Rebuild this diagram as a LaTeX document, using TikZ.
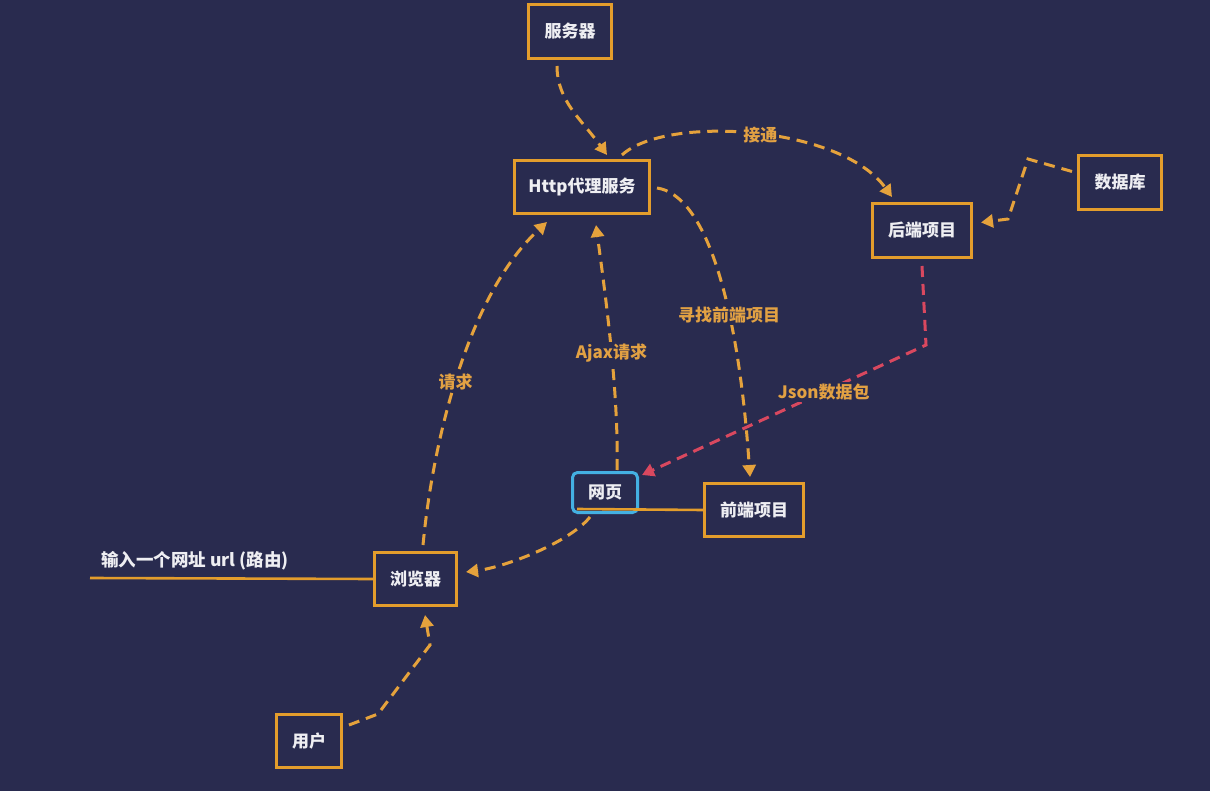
\documentclass[tikz,border=0pt]{standalone}
\usepackage{fontspec}
\setmainfont{Noto Sans CJK SC}
\usetikzlibrary{arrows.meta}
\definecolor{bg}{HTML}{292B4F}
\definecolor{boxorange}{HTML}{E39D2C}
\definecolor{lineorange}{HTML}{E5A23C}
\definecolor{labelorange}{HTML}{E2A143}
\definecolor{boxtext}{HTML}{EEEEF2}
\definecolor{webblue}{HTML}{44B0E2}
\definecolor{jsonred}{HTML}{D9485F}
\begin{document}
\begin{tikzpicture}[x=1pt,y=-1pt,
  box/.style={draw=boxorange, line width=3pt, fill=bg, text=boxtext,
    font=\bfseries\fontsize{17}{20}\selectfont, inner sep=0pt, align=center},
  webbox/.style={box, draw=webblue, rounded corners=5pt},
  conn/.style={draw=lineorange, line width=3pt, dash pattern=on 11pt off 7pt,
    -{Triangle[length=12pt,width=13pt]}},
  redconn/.style={conn, draw=jsonred},
  solidline/.style={draw=boxorange, line width=2.6pt},
  lbl/.style={fill=bg, text=labelorange, inner sep=2pt,
    font=\bfseries\fontsize{17}{20}\selectfont},
  plain/.style={text=boxtext, inner sep=0pt,
    font=\bfseries\fontsize{17.5}{20}\selectfont}
]
\fill[bg] (0,0) rectangle (1210,791);
\useasboundingbox (0,0) rectangle (1210,791);

% nodes
\node[box, minimum width=83pt, minimum height=54pt] (srv) at (570,31.5) {服务器};
\node[box, minimum width=135pt, minimum height=53pt] (http) at (582,187) {Http代理服务};
\node[box, minimum width=99pt, minimum height=54pt] (be) at (922,230.5) {后端项目};
\node[box, minimum width=83pt, minimum height=54pt] (db) at (1120,182.5) {数据库};
\node[webbox, minimum width=65pt, minimum height=40pt] (web) at (605,492.5) {网页};
\node[box, minimum width=99pt, minimum height=53pt] (fe) at (754,510) {前端项目};
\node[box, minimum width=82pt, minimum height=53pt] (br) at (415.5,579) {浏览器};
\node[box, minimum width=65pt, minimum height=53pt] (user) at (309,741) {用户};

\node[plain, anchor=west] (urltext) at (101,561) {输入一个网址 url (路由)};
\coordinate (urlstart) at (90,578);

% connectors
\draw[conn] ([xshift=-13pt,yshift=-6pt]srv.south)
  .. controls +(0,35) and +(-25,-35) .. ([xshift=25pt,yshift=4pt]http.north);

\draw[conn] ([xshift=40pt,yshift=4pt]http.north)
  .. controls (665,115) and (840,125) .. node[lbl, pos=0.52] {接通} ([xshift=-30pt,yshift=5pt]be.north);

\coordinate (dbA) at (1028,159);
\coordinate (dbB) at (1008,219);
\draw[conn] ([xshift=-5pt,yshift=11pt]db.west) -- (dbA) -- (dbB) -- ([xshift=8pt,yshift=8pt]be.east);

\coordinate (redA) at (926,345);
\draw[redconn] ([yshift=-7pt]be.south) -- (redA)
  -- node[lbl, pos=0.36] {Json数据包} ([xshift=3pt,yshift=-4pt]web.north east);

\draw[conn] ([xshift=6pt,yshift=-1pt]http.east)
  .. controls (705,195) and (738,300) .. node[lbl, pos=0.64] {寻找前端项目} ([xshift=-4pt,yshift=5pt]fe.north);

\draw[conn] ([xshift=12pt,yshift=1pt]web.north)
  .. controls (619,390) and (604,285) .. node[lbl, pos=0.45] {Ajax请求} ([xshift=14pt,yshift=-10pt]http.south);

\draw[conn] ([xshift=7.5pt,yshift=6pt]br.north)
  .. controls (433,440) and (468,295) .. node[lbl, pos=0.47] {请求} ([xshift=-35pt,yshift=-7pt]http.south);

\draw[conn] ([xshift=-15pt,yshift=-3pt]web.south)
  .. controls +(-20,25) and +(40,-5) .. ([xshift=8pt,yshift=7pt]br.east);

\coordinate (uA) at (378,714);
\coordinate (uB) at (430,645);
\draw[conn] ([xshift=6pt,yshift=16pt]user.east) -- (uA) -- (uB) -- ([xshift=9.5pt,yshift=-8pt]br.south);

\draw[solidline] (urlstart) -- (br.west);
\draw[solidline] ([xshift=6pt,yshift=5pt]web.south west) -- (fe.west);
\end{tikzpicture}
\end{document}
